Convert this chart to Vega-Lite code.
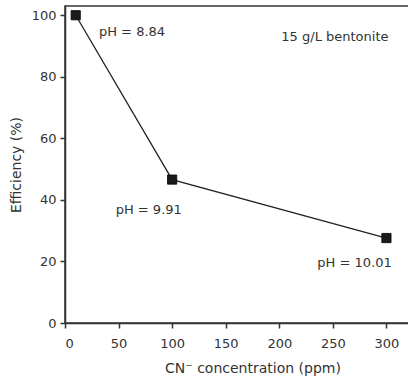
{
  "$schema": "https://vega.github.io/schema/vega-lite/v6.json",
  "width": 345,
  "height": 317,
  "autosize": {"type": "none"},
  "padding": {"left": 65, "top": 6, "right": 0, "bottom": 62},
  "background": "white",
  "config": {
    "font": "DejaVu Sans",
    "view": {"stroke": "#333", "strokeWidth": 1.5},
    "axis": {
      "grid": false,
      "domainColor": "#333",
      "domainWidth": 1.5,
      "tickColor": "#333",
      "tickWidth": 1.5,
      "tickSize": 5,
      "labelFont": "DejaVu Sans",
      "labelFontSize": 13,
      "labelColor": "#333",
      "titleFont": "DejaVu Sans",
      "titleFontSize": 14,
      "titleFontWeight": "normal",
      "titleColor": "#333"
    }
  },
  "layer": [
    {
      "data": {"values": [
        {"conc": 10, "eff": 100},
        {"conc": 100, "eff": 46.6},
        {"conc": 300, "eff": 27.6}
      ]},
      "mark": {"type": "line", "color": "#222", "strokeWidth": 1.3},
      "encoding": {
        "x": {"field": "conc", "type": "quantitative",
          "scale": {"domain": [0, 322], "nice": false},
          "axis": {"values": [0, 50, 100, 150, 200, 250, 300], "title": "CN⁻ concentration (ppm)", "labelPadding": 9, "titlePadding": 11, "titleX": 187.5}},
        "y": {"field": "eff", "type": "quantitative",
          "scale": {"domain": [0, 103], "nice": false},
          "axis": {"values": [0, 20, 40, 60, 80, 100], "title": "Efficiency (%)", "labelPadding": 4, "titlePadding": 8}}
      }
    },
    {
      "data": {"values": [
        {"conc": 10, "eff": 100},
        {"conc": 100, "eff": 46.6},
        {"conc": 300, "eff": 27.6}
      ]},
      "mark": {"type": "point", "shape": "square", "filled": true, "size": 85, "color": "#1a1a1a", "opacity": 1, "stroke": "#000", "strokeWidth": 0.8},
      "encoding": {
        "x": {"field": "conc", "type": "quantitative"},
        "y": {"field": "eff", "type": "quantitative"}
      }
    },
    {
      "data": {"values": [
        {"tx": 31.7, "ty": 94.7, "label": "pH = 8.84"},
        {"tx": 47.3, "ty": 36.8, "label": "pH = 9.91"},
        {"tx": 235.5, "ty": 19.5, "label": "pH = 10.01"},
        {"tx": 201.9, "ty": 93, "label": "15 g/L bentonite"}
      ]},
      "mark": {"type": "text", "align": "left", "baseline": "middle", "fontSize": 13, "font": "DejaVu Sans", "color": "#333"},
      "encoding": {
        "x": {"field": "tx", "type": "quantitative"},
        "y": {"field": "ty", "type": "quantitative"},
        "text": {"field": "label"}
      }
    }
  ]
}
